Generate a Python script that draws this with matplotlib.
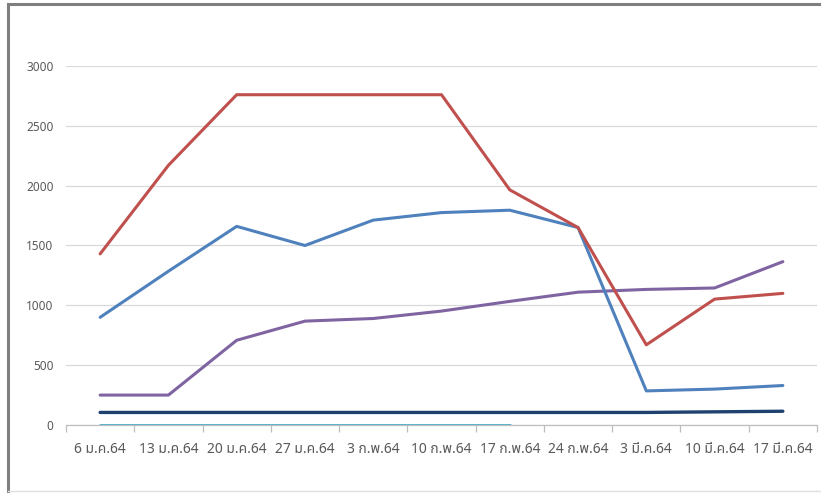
import numpy
import matplotlib
matplotlib.use("Agg")
from matplotlib import pyplot, font_manager
from matplotlib.ft2font import FT2Font

# data

dates = ["6 ม.ค.64", "13 ม.ค.64", "20 ม.ค.64", "27 ม.ค.64", "3 ก.พ.64", "10 ก.พ.64",
         "17 ก.พ.64", "24 ก.พ.64", "3 มี.ค.64", "10 มี.ค.64", "17 มี.ค.64"]

red = [1430, 2170, 2760, 2760, 2760, 2760, 1965, 1650, 670, 1052, 1100]
blue = [900, 1285, 1660, 1500, 1712, 1775, 1795, 1650, 285, 300, 330]
purple = [250, 250, 708, 868, 890, 952, 1033, 1110, 1133, 1145, 1365]
navy = [105, 105, 105, 105, 105, 105, 105, 105, 105, 110, 115]
light = [0, 0, 0, 0, 0, 0, 0, None, None, None, None]

# find an installed family with Thai glyphs

thai_names = []
for f in font_manager.fontManager.ttflist:
    try:
        if FT2Font(f.fname).get_char_index(ord("ก")) != 0:
            thai_names.append(f.name)
    except Exception:
        pass
thai_font = "DejaVu Sans"
for name in ["Tahoma", "Leelawadee UI", "Noto Sans Thai", "Noto Sans Thai UI", "Sarabun",
             "IBM Plex Sans Thai", "Prompt", "Kanit", "Bai Jamjuree"]:
    if name in thai_names:
        thai_font = name
        break
else:
    if thai_names:
        thai_font = sorted(thai_names)[0]

pyplot.rcParams["font.family"] = ["Noto Sans", thai_font, "DejaVu Sans"]

fig = pyplot.figure(figsize=(8.21, 4.93), dpi=100)
ax = fig.add_axes([66 / 821, 68 / 493, 751 / 821, 359 / 493])

x = numpy.arange(len(dates))
light_y = numpy.array([numpy.nan if v is None else v for v in light], dtype=float)

ax.plot(x, light_y, color="#4BACC6", lw=2.0, solid_capstyle="round", zorder=3)
ax.plot(x, navy, color="#1F416F", lw=2.4, solid_capstyle="round", zorder=3)
ax.plot(x, purple, color="#8064A2", lw=2.2, solid_capstyle="round", zorder=3)
ax.plot(x, blue, color="#4F81BD", lw=2.2, solid_capstyle="round", zorder=3)
ax.plot(x, red, color="#C0504D", lw=2.2, solid_capstyle="round", zorder=3)

ax.set_xlim(-0.5, len(dates) - 0.5)
ax.set_ylim(0, 3000)
ax.set_yticks(range(0, 3001, 500))
ax.set_xticks(x)
ax.set_xticklabels(dates)
ax.set_xticks(numpy.arange(-0.5, len(dates), 1.0), minor=True)

ax.grid(axis="y", color="#D9D9D9", lw=0.9, zorder=0)
for s in ["top", "right", "left"]:
    ax.spines[s].set_visible(False)
ax.spines["bottom"].set_color("#BFBFBF")
ax.spines["bottom"].set_linewidth(0.9)
ax.tick_params(axis="y", length=0, pad=9, labelsize=8.5, labelcolor="#595959")
ax.tick_params(axis="x", which="major", length=0, pad=12, labelsize=10, labelcolor="#595959")
ax.tick_params(axis="x", which="minor", length=5, color="#BFBFBF", width=0.9)

# outer frame
fig.add_artist(matplotlib.lines.Line2D([8 / 821, 8 / 821], [0, 1 - 4 / 493], color="#7F7F7F", lw=2.2))
fig.add_artist(matplotlib.lines.Line2D([8 / 821, 1], [1 - 4 / 493, 1 - 4 / 493], color="#7F7F7F", lw=2.2))
fig.add_artist(matplotlib.lines.Line2D([8 / 821, 1], [2 / 493, 2 / 493], color="#E0E0E0", lw=1))

fig.savefig("out.png", dpi=100)
